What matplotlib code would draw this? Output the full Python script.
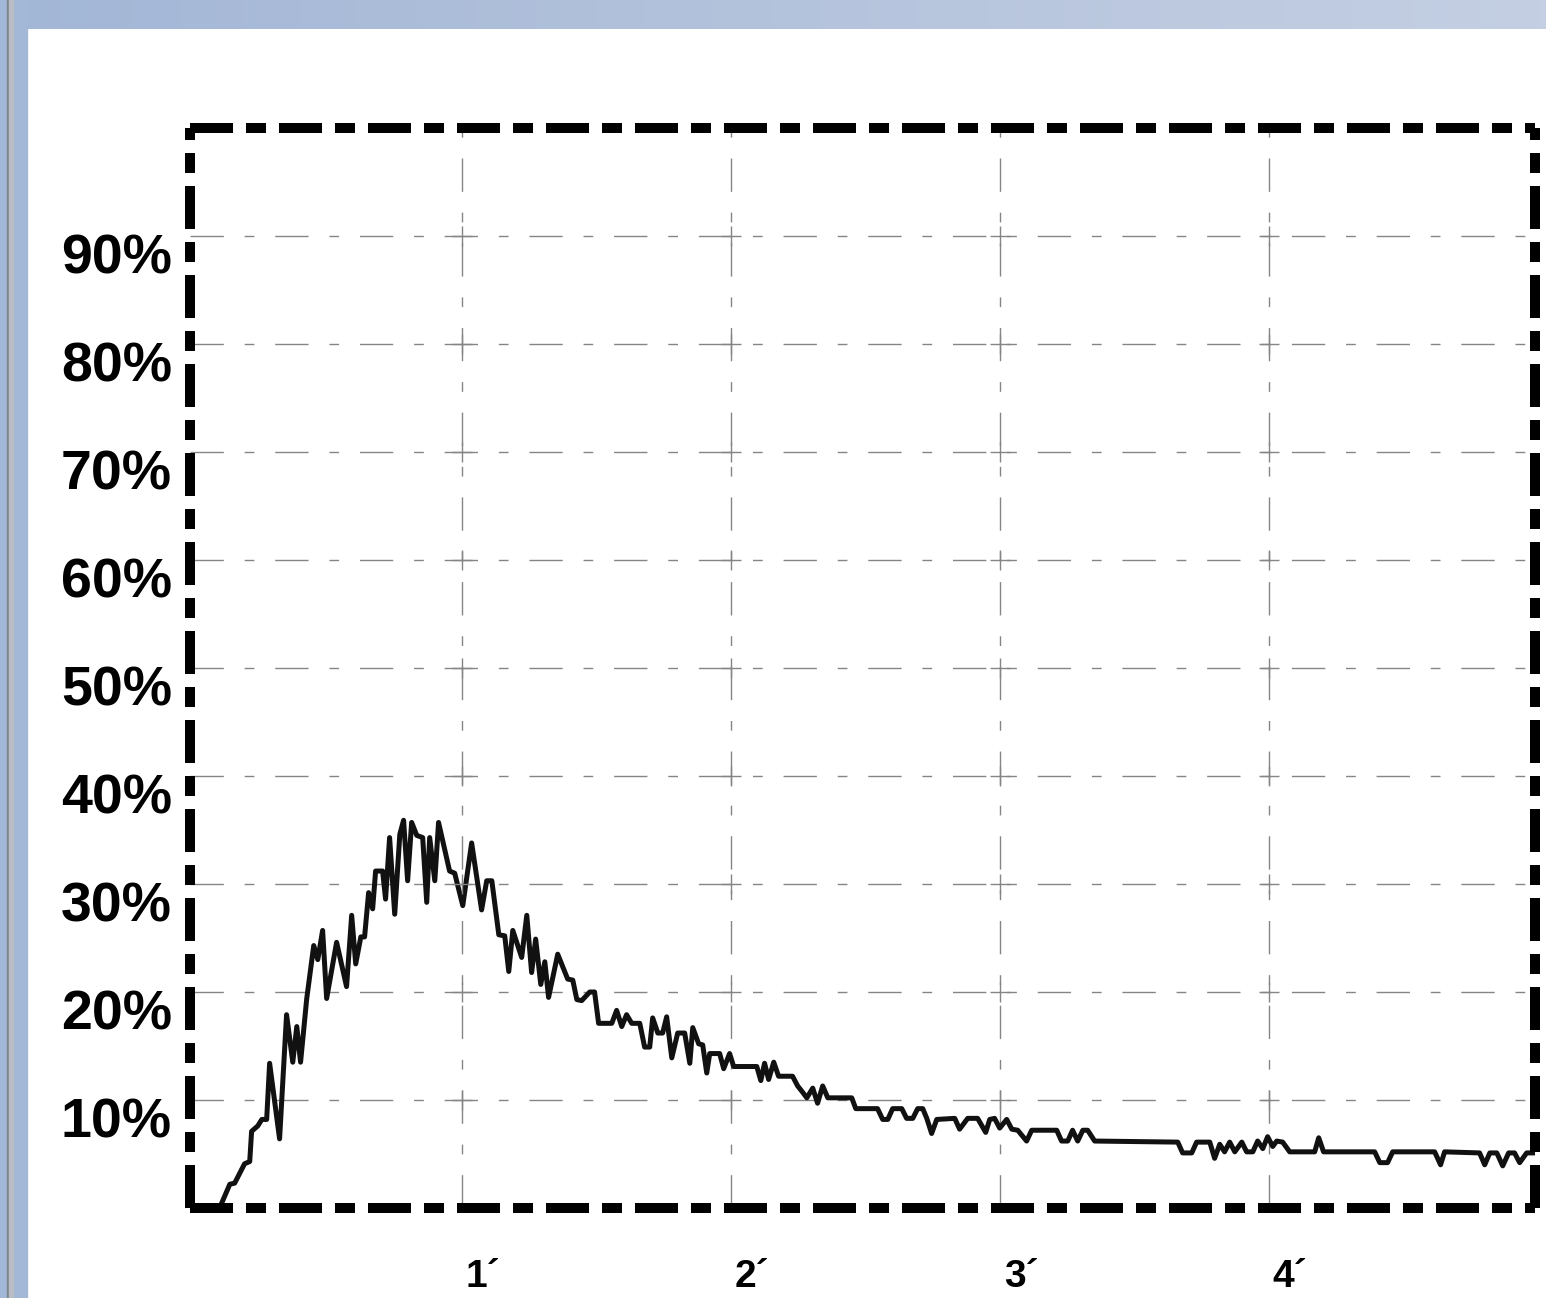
import numpy as np
import matplotlib.pyplot as plt
from matplotlib.patches import Rectangle
from matplotlib.colors import LinearSegmentedColormap
from matplotlib.transforms import ScaledTranslation

# time in minutes, share in %
minutes = [0.000, 0.100, 0.138, 0.156, 0.193, 0.212, 0.219, 0.242, 0.257, 0.275,
           0.286, 0.323, 0.349, 0.372, 0.387, 0.401, 0.424, 0.450, 0.465, 0.483,
           0.498, 0.535, 0.572, 0.591, 0.606, 0.625, 0.639, 0.654, 0.669, 0.680,
           0.706, 0.717, 0.732, 0.751, 0.770, 0.784, 0.799, 0.814, 0.833, 0.855,
           0.870, 0.881, 0.900, 0.914, 0.937, 0.955, 0.974, 1.004, 1.037, 1.074,
           1.093, 1.112, 1.138, 1.160, 1.175, 1.190, 1.223, 1.242, 1.260, 1.275,
           1.294, 1.309, 1.323, 1.357, 1.394, 1.413, 1.428, 1.446, 1.476, 1.494,
           1.509, 1.558, 1.576, 1.595, 1.613, 1.632, 1.662, 1.680, 1.699, 1.710,
           1.729, 1.747, 1.762, 1.781, 1.803, 1.829, 1.848, 1.859, 1.881, 1.896,
           1.911, 1.922, 1.959, 1.974, 1.996, 2.011, 2.097, 2.112, 2.126, 2.141,
           2.160, 2.178, 2.230, 2.249, 2.268, 2.283, 2.305, 2.323, 2.342, 2.361,
           2.450, 2.465, 2.546, 2.565, 2.584, 2.602, 2.636, 2.654, 2.677, 2.695,
           2.714, 2.729, 2.747, 2.766, 2.833, 2.851, 2.881, 2.918, 2.948, 2.963,
           2.981, 3.000, 3.026, 3.045, 3.067, 3.100, 3.119, 3.212, 3.230, 3.253,
           3.271, 3.290, 3.309, 3.327, 3.353, 3.662, 3.680, 3.714, 3.732, 3.781,
           3.799, 3.818, 3.836, 3.855, 3.874, 3.900, 3.918, 3.941, 3.959, 3.978,
           3.996, 4.015, 4.030, 4.052, 4.078, 4.171, 4.186, 4.204, 4.394, 4.413,
           4.442, 4.461, 4.617, 4.639, 4.654, 4.784, 4.803, 4.822, 4.848, 4.870,
           4.892, 4.914, 4.933, 4.959, 5.007]
share = [0.0, 0.0, 2.2, 2.3, 4.1, 4.3, 7.1, 7.6, 8.2, 8.2,
         13.4, 6.4, 17.9, 13.5, 16.8, 13.5, 19.4, 24.3, 23.0, 25.7,
         19.4, 24.6, 20.5, 27.1, 22.6, 25.1, 25.1, 29.2, 27.7, 31.2,
         31.2, 28.6, 34.3, 27.2, 34.6, 35.9, 30.3, 35.7, 34.5, 34.3,
         28.3, 34.3, 30.3, 35.7, 33.2, 31.2, 31.0, 28.0, 33.8, 27.6,
         30.3, 30.3, 25.3, 25.2, 21.9, 25.7, 23.2, 27.1, 21.8, 24.9,
         20.7, 22.8, 19.5, 23.5, 21.2, 21.1, 19.3, 19.2, 20.0, 20.0,
         17.1, 17.1, 18.3, 16.8, 17.9, 17.1, 17.1, 14.9, 14.9, 17.6,
         16.2, 16.2, 17.7, 13.9, 16.2, 16.2, 13.4, 16.7, 15.2, 15.1,
         12.5, 14.3, 14.3, 12.9, 14.3, 13.1, 13.1, 11.8, 13.4, 11.9,
         13.5, 12.2, 12.2, 11.3, 10.7, 10.2, 11.1, 9.7, 11.3, 10.2,
         10.2, 9.2, 9.2, 8.2, 8.2, 9.2, 9.2, 8.3, 8.3, 9.2,
         9.2, 8.3, 6.9, 8.2, 8.3, 7.3, 8.3, 8.3, 7.0, 8.2,
         8.3, 7.4, 8.2, 7.3, 7.2, 6.2, 7.2, 7.2, 6.2, 6.2,
         7.2, 6.2, 7.2, 7.2, 6.2, 6.1, 5.1, 5.1, 6.1, 6.1,
         4.6, 5.9, 5.2, 6.1, 5.2, 6.1, 5.2, 5.2, 6.2, 5.5,
         6.6, 5.7, 6.2, 6.1, 5.2, 5.2, 6.5, 5.2, 5.2, 4.2,
         4.2, 5.2, 5.2, 4.0, 5.2, 5.1, 4.0, 5.1, 5.1, 3.9,
         5.1, 5.1, 4.2, 5.1, 5.1]

y_ticks = [10, 20, 30, 40, 50, 60, 70, 80, 90]
y_labels = ["10%", "20%", "30%", "40%", "50%", "60%", "70%", "80%", "90%"]
x_ticks = [1, 2, 3, 4]
x_labels = ["1\u00b4", "2\u00b4", "3\u00b4", "4\u00b4"]

plt.rcParams['font.family'] = ['Liberation Sans', 'DejaVu Sans']

W, H = 1546, 1298
fig = plt.figure(figsize=(W / 100, H / 100), dpi=100)
fig.patch.set_facecolor('white')

# window frame around the scan
band = fig.add_axes([0, 1 - 29 / H, 1, 29 / H])
cmap = LinearSegmentedColormap.from_list('band', ['#a2b6d6', '#b4c3dc', '#c4cfe3'])
band.imshow(np.linspace(0, 1, 256)[None, :], cmap=cmap, aspect='auto')
band.axis('off')
fig.patches.append(Rectangle((0, 0), 27 / W, 1, transform=fig.transFigure,
                             color='#a3b8d6', zorder=0))
fig.patches.append(Rectangle((7 / W, 0), 2 / W, 1, transform=fig.transFigure,
                             color='#7d8590', zorder=0))
fig.patches.append(Rectangle((9 / W, 0), 4 / W, 1, transform=fig.transFigure,
                             color='#b9bec6', zorder=0))

ax = fig.add_axes([190 / W, 1 - 1208 / H, (1535 - 190) / W, (1208 - 128) / H])
ax.set_xlim(-0.01, 4.99)
ax.set_ylim(0, 100)

ax.plot(minutes, share, color='#111111', lw=3.6)

# grid with little crosses at the intersections
ax.grid(True, color='#858585', lw=1.0, linestyle=(0, (24, 15, 7, 15)))
gx, gy = np.meshgrid(x_ticks, y_ticks)
ax.plot(gx.ravel(), gy.ravel(), ls='none', marker='+', ms=14, mew=1.0,
        color='#858585')

for sp in ax.spines.values():
    sp.set_linewidth(7.2)
    sp.set_color('black')
    sp.set_capstyle('butt')
    sp.set_linestyle((0, (4.3, 1.3, 2.0, 1.3)))

ax.set_yticks(y_ticks, y_labels, fontsize=40, fontweight='bold')
ax.set_xticks(x_ticks, x_labels, fontsize=28, fontweight='bold')
ax.tick_params(axis='both', length=0)
ax.tick_params(axis='y', pad=13)
ax.tick_params(axis='x', pad=37)

down = ScaledTranslation(0, -18 / 100, fig.dpi_scale_trans)
for lab in ax.get_yticklabels():
    lab.set_transform(lab.get_transform() + down)
right = ScaledTranslation(4 / 100, 0, fig.dpi_scale_trans)
for lab in ax.get_xticklabels():
    lab.set_horizontalalignment('left')
    lab.set_transform(lab.get_transform() + right)

fig.savefig('out.png', dpi=100)
